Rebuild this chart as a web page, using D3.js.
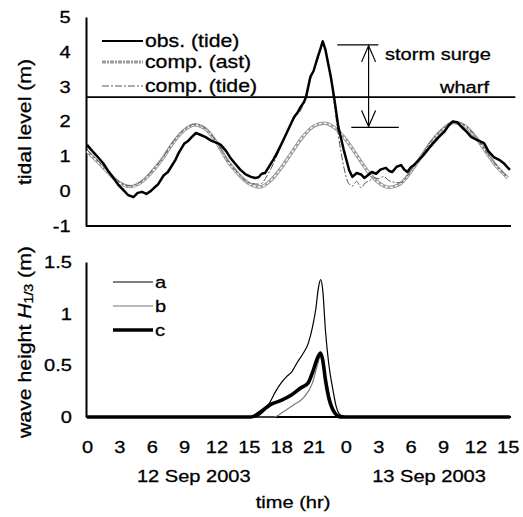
<!DOCTYPE html>
<html>
<head>
<meta charset="utf-8">
<script src="https://cdn.jsdelivr.net/npm/d3@7"></script>
<style>
  body { margin: 0; background: #fff; }
  text { font-family: "Liberation Sans", Arial, sans-serif; fill: #000; stroke: #000; stroke-width: 0.3px; }
</style>
</head>
<body>
<div id="chart"></div>
<script>
// ---- data ----
const tickHours = [0, 3, 6, 9, 12, 15, 18, 21, 24, 27, 30, 33, 36, 39]
const tickLabels = ['0', '3', '6', '9', '12', '15', '18', '21', '0', '3', '6', '9', '12', '15']
const dayLabels = ['12 Sep 2003', '13 Sep 2003']

const levelTicks = [-1, 0, 1, 2, 3, 4, 5]
const waveTicks = [0, 0.5, 1, 1.5]

const wharfLevel = 2.7
const surgeTop = 4.2
const surgeBottom = 1.83

// computed astronomical tide, hourly
const compHours = [0,1,2,3,4,5,6,7,8,9,10,11,12,13,14,15,16,17,18,19,20,21,22,23,24,25,26,27,28,29,30,31,32,33,34,35,36,37,38,39]
const compAst = [1.15,0.84,0.52,0.24,0.13,0.25,0.55,0.93,1.40,1.75,1.90,1.78,1.40,0.88,0.50,0.22,0.12,0.30,0.67,1.12,1.56,1.86,1.95,1.81,1.48,1.03,0.58,0.25,0.11,0.20,0.55,1.00,1.45,1.78,1.97,1.88,1.56,1.12,0.70,0.38]

// computed tide (model)
const compTideHours = [0,1,2,3,4,5,6,7,8,9,10,11,12,13,14,15,16,17,18,19,20,20.7,21.4,21.85,22.3,22.8,23.3,23.8,24.2,24.6,25.0,25.4,25.8,26.2,26.6,27.0,27.5,28,29,30,31,32,33,34,35,36,37,38,39]
const compTide = [1.18,0.87,0.55,0.27,0.15,0.27,0.57,0.95,1.42,1.77,1.92,1.80,1.42,0.90,0.52,0.24,0.20,0.62,1.30,2.00,2.45,3.20,3.80,4.20,3.80,2.80,1.60,0.70,0.25,0.15,0.28,0.10,0.24,0.30,0.38,0.36,0.42,0.30,0.24,0.57,1.02,1.47,1.80,1.99,1.90,1.58,1.14,0.72,0.40]

// observed tide
const obsHours = [0,0.5,1.0,1.5,1.9,2.4,2.9,3.4,3.8,4.3,4.7,5.1,5.5,5.9,6.2,6.6,7.1,7.5,7.8,8.2,8.5,9.0,9.4,9.7,10.1,10.5,11.0,11.5,12.1,12.4,12.9,13.3,13.7,14.2,14.7,15.2,15.6,15.9,16.2,16.5,16.9,17.3,17.7,18.2,18.7,19.2,19.5,19.8,20.1,20.3,20.7,21.0,21.4,21.6,21.85,22.1,22.6,22.9,23.3,23.8,24.3,24.6,25.0,25.4,25.7,26.0,26.4,26.8,27.2,27.7,28.0,28.3,28.7,29.1,29.4,29.7,30.0,30.3,30.7,31.2,31.6,32.1,32.6,33.1,33.5,33.9,34.3,34.8,35.2,35.6,36.1,36.8,37.2,37.7,38.2,38.6,39.2]
const obsLevel = [1.33,1.15,0.98,0.80,0.61,0.40,0.18,0.02,-0.11,-0.17,-0.05,-0.02,-0.08,0.00,0.09,0.20,0.45,0.55,0.70,0.90,1.10,1.36,1.45,1.55,1.67,1.62,1.55,1.45,1.38,1.33,1.15,0.95,0.80,0.62,0.48,0.41,0.38,0.40,0.50,0.52,0.72,0.92,1.15,1.47,1.80,2.13,2.25,2.42,2.55,2.70,3.28,3.45,3.86,4.05,4.30,4.06,3.28,2.70,1.84,1.18,0.60,0.41,0.52,0.48,0.38,0.45,0.55,0.50,0.62,0.67,0.58,0.55,0.70,0.75,0.62,0.55,0.68,0.75,0.88,1.04,1.20,1.38,1.55,1.70,1.88,2.00,1.98,1.82,1.70,1.56,1.48,1.38,1.15,0.98,0.90,0.81,0.61]

// significant wave height H1/3
const waveAHours = [0,15.5,16.0,16.5,17.0,17.5,18.0,18.5,19.0,19.5,20.0,20.5,20.9,21.2,21.45,21.65,21.85,22.1,22.4,22.8,23.1,23.5,24.4,39.2]
const waveA = [0,0,0.02,0.07,0.15,0.25,0.33,0.39,0.44,0.53,0.61,0.71,0.87,1.04,1.25,1.33,1.23,0.84,0.52,0.26,0.10,0.02,0,0]
const waveBHours = [0,17.3,18.2,19.2,20.1,20.9,21.4,21.65,21.9,22.2,22.6,23.2,24.0,39.2]
const waveB = [0,0,0.05,0.12,0.19,0.33,0.52,0.60,0.50,0.34,0.15,0.03,0,0]
const waveCHours = [0,15.2,16.1,17.0,18.0,18.9,19.8,20.5,20.9,21.4,21.65,21.85,22.1,22.4,22.9,23.5,39.2]
const waveC = [0,0,0.05,0.12,0.16,0.21,0.28,0.33,0.43,0.58,0.62,0.55,0.36,0.19,0.05,0,0]

const levelSeries = ['obs. (tide)', 'comp. (ast)', 'comp. (tide)']
const waveSeries = ['a', 'b', 'c']

// ---- layout ----
const width = 523
const height = 517
const SX = 1.18 // text in the figure is a bit wide

const svg = d3.select('#chart').append('svg')
  .attr('width', width)
  .attr('height', height)

const x = d3.scaleLinear().domain([0, 39.3]).range([87, 511])
const yTop = d3.scaleLinear().domain([-1, 5]).range([226, 17])
const yBot = d3.scaleLinear().domain([0, 1.5]).range([417, 262])

function label(g, px, py, txt, size, anchor) {
  return g.append('text')
    .attr('transform', `translate(${px},${py}) scale(${SX},1)`)
    .attr('font-size', size)
    .attr('text-anchor', anchor || 'start')
    .text(txt)
}

function styleAxis(sel) {
  sel.attr('font-family', null).attr('font-size', 17)
  sel.select('.domain').attr('stroke-width', 2)
  sel.selectAll('text').attr('transform', `scale(${SX},1)`)
}

//=======================================================
// upper panel: tidal level

const topG = svg.append('g')

topG.append('g')
  .attr('transform', 'translate(86,0)')
  .call(d3.axisLeft(yTop).tickValues(levelTicks).tickSize(0).tickSizeOuter(0)
    .tickPadding(13).tickFormat(d => String(d)))
  .call(styleAxis)

// bottom line at -1
topG.append('line')
  .attr('x1', x(0) - 1).attr('x2', x(39.3))
  .attr('y1', yTop(-1)).attr('y2', yTop(-1))
  .attr('stroke', '#000').attr('stroke-width', 2)

// wharf line
topG.append('line')
  .attr('x1', x(0) - 1).attr('x2', x(39.7))
  .attr('y1', yTop(wharfLevel)).attr('y2', yTop(wharfLevel))
  .attr('stroke', '#000').attr('stroke-width', 1.6)

const lineTop = d3.line().x(d => x(d[0])).y(d => yTop(d[1])).curve(d3.curveMonotoneX)

const astPts = d3.zip(compHours, compAst)
const tidePts = d3.zip(compTideHours, compTide)
const obsPts = d3.zip(obsHours, obsLevel)

// comp (ast): grey hollow dotted line
topG.append('path').datum(astPts)
  .attr('fill', 'none').attr('stroke', '#9a9a9a').attr('stroke-width', 3.4)
  .attr('d', lineTop)
topG.append('path').datum(astPts)
  .attr('fill', 'none').attr('stroke', '#fff').attr('stroke-width', 1.4)
  .attr('stroke-dasharray', '3,2')
  .attr('d', lineTop)

// comp (tide): thin dash-dot
topG.append('path').datum(tidePts)
  .attr('fill', 'none').attr('stroke', '#555').attr('stroke-width', 1)
  .attr('stroke-dasharray', '7,2,2,2')
  .attr('d', lineTop)

// obs (tide)
topG.append('path').datum(obsPts)
  .attr('fill', 'none').attr('stroke', '#000').attr('stroke-width', 2.5)
  .attr('stroke-linejoin', 'round')
  .attr('d', d3.line().x(d => x(d[0])).y(d => yTop(d[1])))

// legend
const legY = [41, 62, 86]
levelSeries.forEach((name, i) => {
  const ly = legY[i]
  if (i === 0) {
    topG.append('line').attr('x1', 102).attr('x2', 143).attr('y1', ly).attr('y2', ly)
      .attr('stroke', '#000').attr('stroke-width', 1.8)
  } else if (i === 1) {
    topG.append('line').attr('x1', 102).attr('x2', 143).attr('y1', ly).attr('y2', ly)
      .attr('stroke', '#9a9a9a').attr('stroke-width', 3)
      .attr('stroke-dasharray', '4,1,2,1')
  } else {
    topG.append('line').attr('x1', 102).attr('x2', 143).attr('y1', ly).attr('y2', ly)
      .attr('stroke', '#555').attr('stroke-width', 1)
      .attr('stroke-dasharray', '7,2,2,2')
  }
  label(topG, 145, ly + 6, name, 18)
})

// storm surge annotation
const ax = x(26.1)
topG.append('line')
  .attr('x1', x(23.2)).attr('x2', x(27.0))
  .attr('y1', yTop(surgeTop)).attr('y2', yTop(surgeTop))
  .attr('stroke', '#000').attr('stroke-width', 1.2)
topG.append('line')
  .attr('x1', x(24.5)).attr('x2', x(28.9))
  .attr('y1', yTop(surgeBottom)).attr('y2', yTop(surgeBottom))
  .attr('stroke', '#000').attr('stroke-width', 1.2)
topG.append('line')
  .attr('x1', ax).attr('x2', ax)
  .attr('y1', yTop(surgeTop) + 1).attr('y2', yTop(surgeBottom) - 1)
  .attr('stroke', '#000').attr('stroke-width', 1.2)
const t0 = yTop(surgeTop) + 1
const b0 = yTop(surgeBottom) - 1
topG.append('path')
  .attr('d', `M${ax - 7},${t0 + 16}L${ax},${t0}L${ax + 7},${t0 + 16}`)
  .attr('fill', 'none').attr('stroke', '#000').attr('stroke-width', 1.2)
topG.append('path')
  .attr('d', `M${ax - 7},${b0 - 16}L${ax},${b0}L${ax + 7},${b0 - 16}`)
  .attr('fill', 'none').attr('stroke', '#000').attr('stroke-width', 1.2)

label(topG, 385, 60, 'storm surge', 17)
label(topG, 440, 93, 'wharf', 17)

// y label
topG.append('text')
  .attr('transform', `translate(31,122) rotate(-90) scale(${SX},1)`)
  .attr('font-size', 18)
  .attr('text-anchor', 'middle')
  .text('tidal level (m)')

//=======================================================
// lower panel: wave height

const botG = svg.append('g')

botG.append('g')
  .attr('transform', 'translate(86,0)')
  .call(d3.axisLeft(yBot).tickValues(waveTicks).tickSize(0).tickSizeOuter(0)
    .tickPadding(12).tickFormat(d => String(d)))
  .call(styleAxis)

botG.append('g')
  .attr('transform', `translate(0,${yBot(0)})`)
  .call(d3.axisBottom(x).tickValues(tickHours).tickSize(0).tickSizeOuter(0)
    .tickPadding(24).tickFormat((d, i) => tickLabels[i]))
  .call(styleAxis)
  .call(g => g.select('.domain').attr('d', `M${x(0) - 1},0H${x(39.3)}`))

const lineBot = d3.line().x(d => x(d[0])).y(d => yBot(d[1])).curve(d3.curveMonotoneX)

botG.append('path').datum(d3.zip(waveBHours, waveB))
  .attr('fill', 'none').attr('stroke', '#777').attr('stroke-width', 1.2)
  .attr('d', lineBot)
botG.append('path').datum(d3.zip(waveCHours, waveC))
  .attr('fill', 'none').attr('stroke', '#000').attr('stroke-width', 3.6)
  .attr('d', lineBot)
botG.append('path').datum(d3.zip(waveAHours, waveA))
  .attr('fill', 'none').attr('stroke', '#000').attr('stroke-width', 1.2)
  .attr('d', lineBot)

// legend
const wLegY = [282, 306, 330]
const wStroke = ['#000', '#777', '#000']
const wWidth = [1.2, 1.2, 3.6]
waveSeries.forEach((name, i) => {
  botG.append('line').attr('x1', 113).attr('x2', 153)
    .attr('y1', wLegY[i]).attr('y2', wLegY[i])
    .attr('stroke', wStroke[i]).attr('stroke-width', wWidth[i])
  label(botG, 155, wLegY[i] + 6, name, 17)
})

// y label with H1/3
const wl = botG.append('text')
  .attr('transform', `translate(31,342) rotate(-90) scale(${SX},1)`)
  .attr('font-size', 18)
  .attr('text-anchor', 'middle')
wl.append('tspan').text('wave height ')
wl.append('tspan').attr('font-style', 'italic').text('H')
wl.append('tspan').attr('font-size', 12).attr('dy', 2).text('1/3')
wl.append('tspan').attr('dy', -2).text(' (m)')

// day labels and axis title
label(botG, x(9.9), 482, dayLabels[0], 17, 'middle')
label(botG, x(31.7), 482, dayLabels[1], 17, 'middle')
label(botG, 293, 508, 'time (hr)', 17, 'middle')
</script>
</body>
</html>
